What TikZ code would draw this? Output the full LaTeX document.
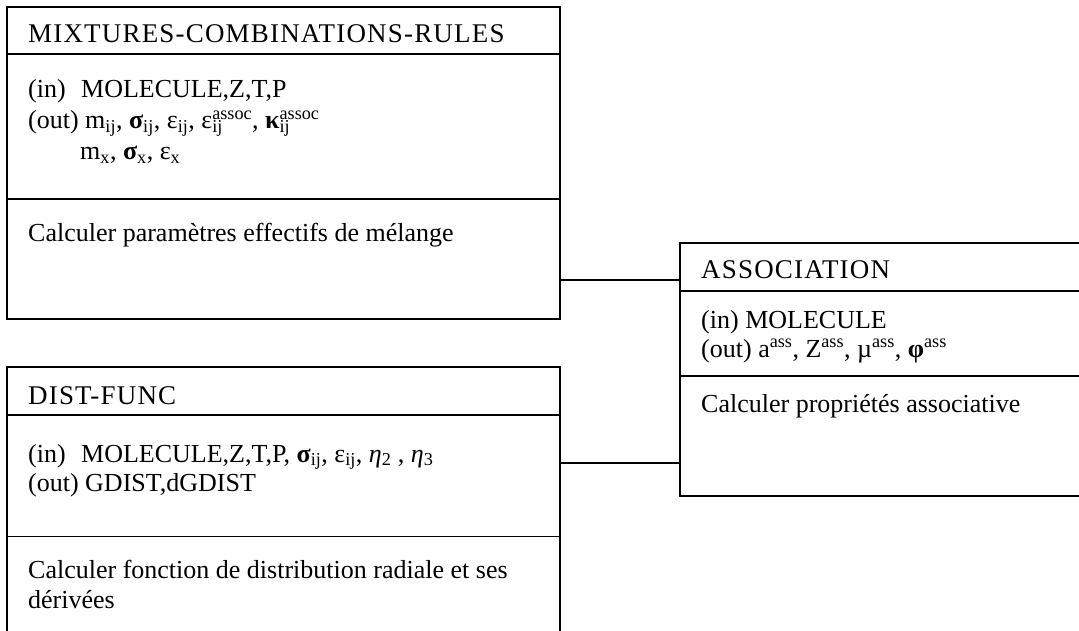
\documentclass[tikz,border=0pt]{standalone}
\usepackage{fontspec}
\setmainfont{Liberation Serif}
\usepackage{tikz}
\usetikzlibrary{positioning, calc}
\newcommand{\io}[1]{\makebox[53pt][l]{#1}}
\newcommand{\supsub}[2]{\rlap{\textsubscript{#1}}\textsuperscript{#2}}

\begin{document}
\begin{tikzpicture}[x=1pt, y=-1pt, box/.style={draw, line width=1.2pt, inner sep=0pt, outer sep=0pt, minimum width=553pt}, txt/.style={anchor=base west, inner sep=0pt, align=left, font=\fontsize{26}{29}\selectfont}, ttl/.style={txt, font=\fontsize{27}{29}\selectfont\addfontfeature{LetterSpace=4.4}}]
\clip (0,0) rectangle (1079,631);
\node[box, anchor=north west, minimum height=47pt] (mixhd) at (7,7) {};
\node[box, minimum height=145pt, below=0pt of mixhd] (mixat) {};
\node[box, minimum height=120pt, below=0pt of mixat] (mixop) {};
\node[box, anchor=north west, minimum height=48pt] (disthd) at (7,367) {};
\node[box, minimum height=121.5pt, below=0pt of disthd] (distat) {};
\node[box, minimum height=120pt, below=0pt of distat] (distop) {};
\node[box, anchor=north west, minimum width=420pt, minimum height=48pt] (asshd) at (680,243) {};
\node[box, minimum width=420pt, minimum height=85pt, below=0pt of asshd] (assat) {};
\node[box, minimum width=420pt, minimum height=120pt, below=0pt of assat] (assop) {};
\node[ttl] (mixtitle) at ($(mixhd.north west)+(21,36)$) {MIXTURES-COMBINATIONS-RULES};
\node[txt] (mixio) at ($(mixat.north west)+(21,106)$) {\io{(in)}MOLECULE,Z,T,P\\[2pt](out) m\textsubscript{ij}, \textbf{σ}\textsubscript{ij}, ε\textsubscript{ij}, ε\supsub{ij}{assoc}, \textbf{κ}\supsub{ij}{assoc}\\[2pt]\hspace*{52pt}m\textsubscript{x}, \textbf{σ}\textsubscript{x}, ε\textsubscript{x}};
\node[txt] (mixtask) at ($(mixop.north west)+(21,42)$) {Calculer paramètres effectifs de mélange};
\node[ttl] (disttitle) at ($(disthd.north west)+(21,37)$) {DIST-FUNC};
\node[txt] (distio) at ($(distat.north west)+(21,76)$) {\io{(in)}MOLECULE,Z,T,P, \textbf{σ}\textsubscript{ij}, ε\textsubscript{ij}, \textit{η}\textsubscript{2} , \textit{η}\textsubscript{3}\\(out) GDIST,dGDIST};
\node[txt] (disttask) at ($(distop.north west)+(21,72)$) {Calculer fonction de distribution radiale et ses\\[1pt]dérivées};
\node[ttl] (asstitle) at ($(asshd.north west)+(21,35)$) {ASSOCIATION};
\node[txt] (assio) at ($(assat.north west)+(21,66)$) {(in) MOLECULE\\(out) a\textsuperscript{ass}, Z\textsuperscript{ass}, µ\textsuperscript{ass}, \textbf{φ}\textsuperscript{ass}};
\node[txt] (asstask) at ($(assop.north west)+(21,36)$) {Calculer propriétés associative};
\draw[line width=1.2pt] ($(mixop.north east)!0.675!(mixop.south east)$) coordinate (c1) -- (c1 -| asshd.west);
\draw[line width=1.2pt] ($(distat.north east)!0.395!(distat.south east)$) coordinate (c2) -- (c2 -| assop.west);
\end{tikzpicture}
\end{document}
